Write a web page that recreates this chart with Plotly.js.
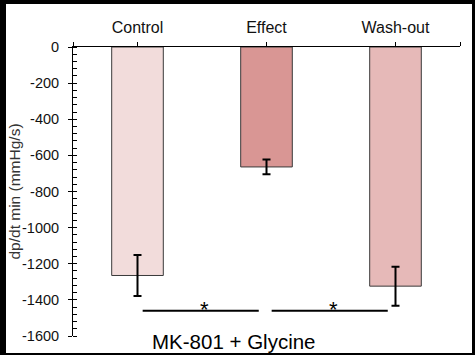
<!DOCTYPE html>
<html>
<head>
<meta charset="utf-8">
<script src="https://cdn.plot.ly/plotly-3.0.1.min.js"></script>
<style>
html,body{margin:0;padding:0;background:#000;width:475px;height:355px;overflow:hidden;}
#chart{position:absolute;left:6px;top:4px;width:466px;height:349px;background:#fff;}
</style>
</head>
<body>
<div id="chart"></div>
<script>
// ---- data ----
var categories = ['Control', 'Effect', 'Wash-out'];
var values = [-1265, -664, -1324];
var errors = [113, 41, 108];
var barColors = ['#F2DCDB', '#D99694', '#E6B9B8'];
var yTickVals = [0, -200, -400, -600, -800, -1000, -1200, -1400, -1600];
var yTickText = ['0', '-200', '-400', '-600', '-800', '-1000', '-1200', '-1400', '-1600'];
var sigPairs = [[0, 1], [1, 2]];
var sigLevel = -1460;
var sigLabel = '*';
var groupLabel = 'MK-801 + Glycine';
var yTitle = 'dp/dt min (mmHg/s)';

var FONT = 'Liberation Sans, Arial, sans-serif';
var xIdx = categories.map(function (c, i) { return i; });

var trace = {
  type: 'bar',
  x: xIdx,
  y: values,
  width: 0.4,
  marker: { color: barColors, line: { color: '#3a3a3a', width: 1 } },
  error_y: { type: 'data', array: errors, visible: true, color: '#000', thickness: 2, width: 4 },
  hoverinfo: 'skip'
};

var shapes = [];
var annotations = [];
sigPairs.forEach(function (p) {
  shapes.push({
    type: 'line', xref: 'x', yref: 'y',
    x0: p[0] + 0.04, x1: p[1] - 0.06, y0: sigLevel, y1: sigLevel,
    line: { color: '#000', width: 2 }
  });
  annotations.push({
    xref: 'x', yref: 'y', x: (p[0] + p[1]) / 2 + 0.02, y: sigLevel,
    text: sigLabel, showarrow: false, yanchor: 'middle', yshift: 1,
    font: { family: FONT, size: 22, color: '#000' }
  });
});
annotations.push({
  xref: 'paper', yref: 'paper', x: 0.417, y: 0, yanchor: 'middle', yshift: -5,
  text: groupLabel, showarrow: false,
  font: { family: FONT, size: 20.5, color: '#000' }
});

var layout = {
  width: 466, height: 349,
  margin: { l: 67, r: 12, t: 43, b: 17, pad: 0 },
  paper_bgcolor: '#fff', plot_bgcolor: '#fff',
  showlegend: false,
  font: { family: FONT, color: '#000' },
  xaxis: {
    side: 'top', range: [-0.5, 2.5],
    tickmode: 'array',
    tickvals: [-0.5].concat(xIdx, [2.5]),
    ticktext: [''].concat(categories, ['']),
    ticks: 'outside', ticklen: 4, tickcolor: '#000', tickwidth: 1,
    showline: true, linecolor: '#000', linewidth: 1,
    showgrid: false, zeroline: false,
    tickfont: { family: FONT, size: 16, color: '#111' },
    ticklabelstandoff: 3,
    fixedrange: true
  },
  yaxis: {
    range: [-1600, 0],
    tickmode: 'array', tickvals: yTickVals, ticktext: yTickText,
    ticks: 'outside', ticklen: 4, tickcolor: '#000', tickwidth: 1,
    minor: { dtick: 40, ticks: 'inside', ticklen: 4, tickcolor: '#000', tickwidth: 1, showgrid: false },
    showline: true, linecolor: '#000', linewidth: 1,
    showgrid: false, zeroline: false,
    tickfont: { family: FONT, size: 14.5, color: '#111' },
    ticklabelstandoff: 6,
    title: { text: yTitle, font: { family: FONT, size: 15.5, color: '#333' }, standoff: 1 },
    fixedrange: true
  },
  yaxis2: {
    overlaying: 'y', side: 'left', range: [-1600, 0],
    tickmode: 'array', tickvals: yTickVals,
    ticks: 'inside', ticklen: 4, tickcolor: '#000', tickwidth: 1,
    showticklabels: false, showline: false, showgrid: false, zeroline: false,
    fixedrange: true
  },
  shapes: shapes,
  annotations: annotations
};

Plotly.newPlot('chart', [trace], layout, { staticPlot: true, displayModeBar: false });
</script>
</body>
</html>
